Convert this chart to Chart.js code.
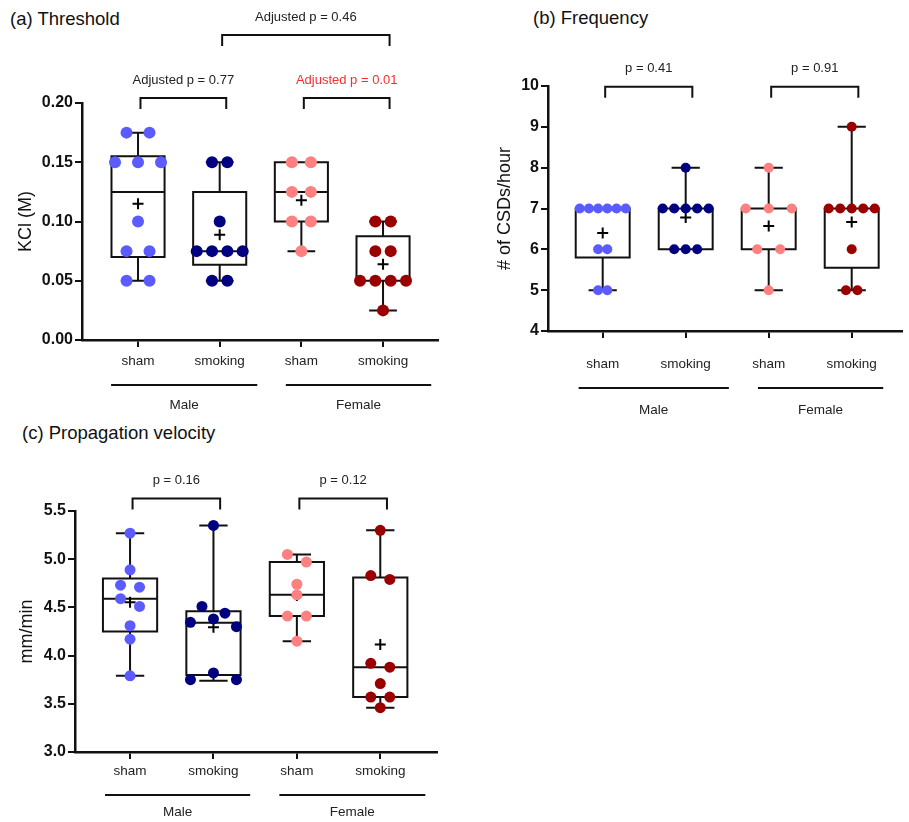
<!DOCTYPE html>
<html>
<head>
<meta charset="utf-8">
<script src="https://cdn.jsdelivr.net/npm/chart.js@4"></script>
<style>
  body { margin: 0; background: #fff; font-family: "Liberation Sans", Arial, sans-serif; }
  #page { position: relative; width: 909px; height: 822px; overflow: hidden; }
  canvas { position: absolute; }
  .title { position: absolute; font-size: 18.5px; line-height: 20px; color: #111; white-space: nowrap; }
</style>
</head>
<body>
<div id="page">
  <div class="title" style="left:10px;top:9px">(a) Threshold</div>
  <div class="title" style="left:533px;top:8px">(b) Frequency</div>
  <div class="title" style="left:22px;top:423px">(c) Propagation velocity</div>
  <canvas id="chartA" width="450" height="420" style="left:0;top:0"></canvas>
  <canvas id="chartB" width="459" height="420" style="left:450px;top:0"></canvas>
  <canvas id="chartC" width="450" height="402" style="left:0;top:420px"></canvas>
</div>
<script>
const categories = ['sham', 'smoking', 'sham', 'smoking'];
const groups = ['Male', 'Female'];
const colors = ['#5b5bff', '#000080', '#ff8080', '#9a0000'];

// (a) Threshold, KCl (M)
const thrMaleSham = [0.175, 0.175, 0.15, 0.15, 0.15, 0.10, 0.075, 0.075, 0.05, 0.05];
const thrMaleSmoking = [0.15, 0.15, 0.10, 0.075, 0.075, 0.075, 0.075, 0.05, 0.05];
const thrFemaleSham = [0.15, 0.15, 0.125, 0.125, 0.10, 0.10, 0.075];
const thrFemaleSmoking = [0.10, 0.10, 0.075, 0.075, 0.05, 0.05, 0.05, 0.05, 0.025];
// [min, q1, median, q3, max]
const thrBox = [
  [0.05, 0.070, 0.125, 0.155, 0.175],
  [0.05, 0.0635, 0.075, 0.125, 0.15],
  [0.075, 0.10, 0.125, 0.15, 0.15],
  [0.025, 0.05, 0.05, 0.0875, 0.10]
];
const thrTicks = [0, 0.05, 0.10, 0.15, 0.20];
const thrBrackets = [
  { from: 1, to: 2, level: 0.2042, text: 'Adjusted p = 0.77' },
  { from: 3, to: 4, level: 0.2042, text: 'Adjusted p = 0.01', color: '#ff2b2b' },
  { from: 2, to: 4, level: 0.2574, text: 'Adjusted p = 0.46' }
];

// (b) Frequency, # of CSDs/hour
const freqMaleSham = [7, 7, 7, 7, 7, 7, 6, 6, 5, 5];
const freqMaleSmoking = [8, 7, 7, 7, 7, 7, 6, 6, 6];
const freqFemaleSham = [8, 7, 7, 7, 6, 6, 5];
const freqFemaleSmoking = [9, 7, 7, 7, 7, 7, 6, 5, 5];
const freqBox = [
  [5, 5.8, 7, 7, 7],
  [6, 6, 7, 7, 8],
  [5, 6, 7, 7, 8],
  [5, 5.55, 7, 7, 9]
];
const freqTicks = [4, 5, 6, 7, 8, 9, 10];
const freqBrackets = [
  { from: 1, to: 2, level: 9.98, text: 'p = 0.41' },
  { from: 3, to: 4, level: 9.98, text: 'p = 0.91' }
];

// (c) Propagation velocity, mm/min
const velMaleSham = [5.27, 4.89, 4.73, 4.71, 4.59, 4.51, 4.31, 4.17, 3.79];
const velMaleSmoking = [5.35, 4.51, 4.44, 4.38, 4.345, 4.30, 3.82, 3.75, 3.75];
const velFemaleSham = [5.05, 4.97, 4.74, 4.63, 4.41, 4.41, 4.15];
const velFemaleSmoking = [5.30, 4.83, 4.79, 3.92, 3.88, 3.71, 3.57, 3.57, 3.46];
const velBox = [
  [3.79, 4.25, 4.59, 4.80, 5.27],
  [3.74, 3.80, 4.34, 4.46, 5.35],
  [4.15, 4.41, 4.63, 4.97, 5.05],
  [3.46, 3.57, 3.88, 4.81, 5.30]
];
const velTicks = [3.0, 3.5, 4.0, 4.5, 5.0, 5.5];
const velBrackets = [
  { from: 1, to: 2, level: 5.63, text: 'p = 0.16' },
  { from: 3, to: 4, level: 5.63, text: 'p = 0.12' }
];

const FONT = '"Liberation Sans", Arial, sans-serif';
Chart.defaults.font.family = FONT;
Chart.defaults.color = '#111';

const mean = arr => arr.reduce((s, v) => s + v, 0) / arr.length;

// spread points that overlap on screen into centred rows (Prism-like)
function spreadPoints(chart, dotR) {
  const x = chart.scales.x, y = chart.scales.y;
  const unit = x.getPixelForValue(1) - x.getPixelForValue(0);
  chart.data.datasets.forEach(ds => {
    if (!ds.cat) return;
    const pts = ds.data.slice().sort((a, b) => b.y - a.y);
    const rows = [];
    pts.forEach(p => {
      const py = y.getPixelForValue(p.y);
      const row = rows[rows.length - 1];
      if (row && Math.abs(py - row.py) < dotR * 1.8) row.pts.push(p);
      else rows.push({ py, pts: [p] });
    });
    const widest = Math.max(...rows.map(r => r.pts.length));
    const gap = widest >= 3 ? 46 / (widest - 1) : 19;
    rows.forEach(r => {
      const n = r.pts.length;
      // slots filled from the centre outwards: 0, -1, +1, -2, +2 ...
      const slots = [];
      for (let k = 0; k < n; k++) slots.push(k - (n - 1) / 2);
      slots.sort((a, b) => Math.abs(a) - Math.abs(b) || a - b);
      r.pts.forEach((p, k) => { p.x = ds.cat + slots[k] * gap / unit; });
    });
  });
  chart.update('none');
}

function makePanel(id, cfg) {
  const datasets = cfg.points.map((vals, i) => ({
    type: 'scatter',
    cat: i + 1,
    data: vals.map(v => ({ x: i + 1, y: v })),
    backgroundColor: colors[i],
    borderWidth: 0,
    pointRadius: cfg.dot,
    order: 0,
    clip: false
  }));
  datasets.push({
    type: 'scatter',
    data: cfg.points.map((vals, i) => ({ x: i + 1, y: mean(vals) })),
    pointStyle: 'cross',
    pointRadius: 5.5,
    borderColor: '#000',
    borderWidth: 2,
    order: 1,
    clip: false
  });

  const boxPlugin = {
    id: 'boxes_' + id,
    beforeDatasetsDraw(chart) {
      const { ctx, scales: { x, y } } = chart;
      ctx.save();
      ctx.strokeStyle = '#111';
      ctx.lineWidth = 2;
      cfg.box.forEach((s, i) => {
        const c = i + 1;
        const [lo, q1, med, q3, hi] = s.map(v => y.getPixelForValue(v));
        const left = x.getPixelForValue(c - 0.325), right = x.getPixelForValue(c + 0.325);
        const cx = x.getPixelForValue(c);
        const capL = x.getPixelForValue(c - 0.17), capR = x.getPixelForValue(c + 0.17);
        ctx.beginPath();
        ctx.moveTo(cx, hi); ctx.lineTo(cx, q3);
        ctx.moveTo(cx, q1); ctx.lineTo(cx, lo);
        ctx.moveTo(capL, hi); ctx.lineTo(capR, hi);
        ctx.moveTo(capL, lo); ctx.lineTo(capR, lo);
        ctx.moveTo(left, med); ctx.lineTo(right, med);
        ctx.rect(left, q3, right - left, q1 - q3);
        ctx.stroke();
      });
      ctx.restore();
    },
    afterDraw(chart) {
      const { ctx, scales: { x, y }, chartArea } = chart;
      ctx.save();
      ctx.lineWidth = 2;
      ctx.strokeStyle = '#111';
      ctx.textAlign = 'center';
      ctx.textBaseline = 'middle';
      ctx.font = '13px ' + FONT;
      // significance brackets
      cfg.brackets.forEach(b => {
        const x1 = x.getPixelForValue(b.from + 0.03), x2 = x.getPixelForValue(b.to + 0.08);
        const yy = y.getPixelForValue(b.level);
        ctx.beginPath();
        ctx.moveTo(x1, yy + 11); ctx.lineTo(x1, yy); ctx.lineTo(x2, yy); ctx.lineTo(x2, yy + 11);
        ctx.stroke();
        ctx.fillStyle = b.color || '#222';
        ctx.fillText(b.text, (x1 + x2) / 2, yy - 18);
      });
      // sex groups under the axis
      ctx.fillStyle = '#222';
      ctx.font = '13.5px ' + FONT;
      cfg.groupSpans.forEach((g, i) => {
        const x1 = x.getPixelForValue(g[0]), x2 = x.getPixelForValue(g[1]);
        const ly = chartArea.bottom + cfg.groupLine;
        ctx.beginPath(); ctx.moveTo(x1, ly); ctx.lineTo(x2, ly); ctx.stroke();
        ctx.fillText(groups[i], (x1 + x2) / 2, chartArea.bottom + cfg.groupText);
      });
      ctx.restore();
    }
  };

  const chart = new Chart(document.getElementById(id), {
    data: { datasets },
    plugins: [boxPlugin],
    options: {
      responsive: false,
      animation: false,
      events: [],
      layout: { padding: { top: cfg.padTop, right: cfg.padRight, bottom: 0, left: 0 } },
      plugins: { legend: { display: false }, tooltip: { enabled: false } },
      scales: {
        x: {
          type: 'linear',
          min: cfg.xRange[0],
          max: cfg.xRange[1],
          afterBuildTicks: s => { s.ticks = categories.map((c, i) => ({ value: i + 1 })); },
          afterFit: s => { s.height = cfg.xAxisH; },
          ticks: {
            autoSkip: false, maxRotation: 0, padding: cfg.xTickPad,
            font: { size: 13.5 }, color: '#222',
            callback: v => categories[v - 1]
          },
          grid: { drawOnChartArea: false, tickLength: 7, color: '#111', lineWidth: 2 },
          border: { color: '#111', width: 2.5 }
        },
        y: {
          min: cfg.ticks[0],
          max: cfg.ticks[cfg.ticks.length - 1],
          afterBuildTicks: s => { s.ticks = cfg.ticks.map(v => ({ value: v })); },
          afterFit: s => { s.width = cfg.yAxisW; },
          ticks: {
            padding: 2, font: { size: 16, weight: 'bold' }, color: '#111',
            callback: v => v.toFixed(cfg.digits)
          },
          grid: { drawOnChartArea: false, tickLength: 7, color: '#111', lineWidth: 2 },
          border: { color: '#111', width: 2.5 },
          title: {
            display: true, text: cfg.yTitle, color: '#111',
            font: { size: 18 }, padding: { top: cfg.yTitlePad, bottom: 0 }
          }
        }
      }
    }
  });
  spreadPoints(chart, cfg.dot);
  return chart;
}

makePanel('chartA', {
  points: [thrMaleSham, thrMaleSmoking, thrFemaleSham, thrFemaleSmoking],
  box: thrBox, ticks: thrTicks, brackets: thrBrackets, digits: 2,
  yTitle: 'KCl (M)', yTitlePad: 15, dot: 6,
  xRange: [0.314, 4.673], yAxisW: 82, xAxisH: 80, padTop: 103, padRight: 12,
  xTickPad: 6, groupLine: 45, groupText: 65,
  groupSpans: [[0.67, 2.46], [2.81, 4.59]]
});

makePanel('chartB', {
  points: [freqMaleSham, freqMaleSmoking, freqFemaleSham, freqFemaleSmoking],
  box: freqBox, ticks: freqTicks, brackets: freqBrackets, digits: 0,
  yTitle: '# of CSDs/hour', yTitlePad: 44, dot: 5,
  xRange: [0.341, 4.6], yAxisW: 98, xAxisH: 89, padTop: 86, padRight: 0,
  xTickPad: 18, groupLine: 57, groupText: 79,
  groupSpans: [[0.71, 2.52], [2.87, 4.38]]
});

makePanel('chartC', {
  points: [velMaleSham, velMaleSmoking, velFemaleSham, velFemaleSmoking],
  box: velBox, ticks: velTicks, brackets: velBrackets, digits: 1,
  yTitle: 'mm/min', yTitlePad: 16, dot: 5.5,
  xRange: [0.34, 4.68], yAxisW: 75, xAxisH: 70, padTop: 91, padRight: 13,
  xTickPad: 4, groupLine: 43, groupText: 60,
  groupSpans: [[0.70, 2.44], [2.79, 4.54]]
});
</script>
</body>
</html>
